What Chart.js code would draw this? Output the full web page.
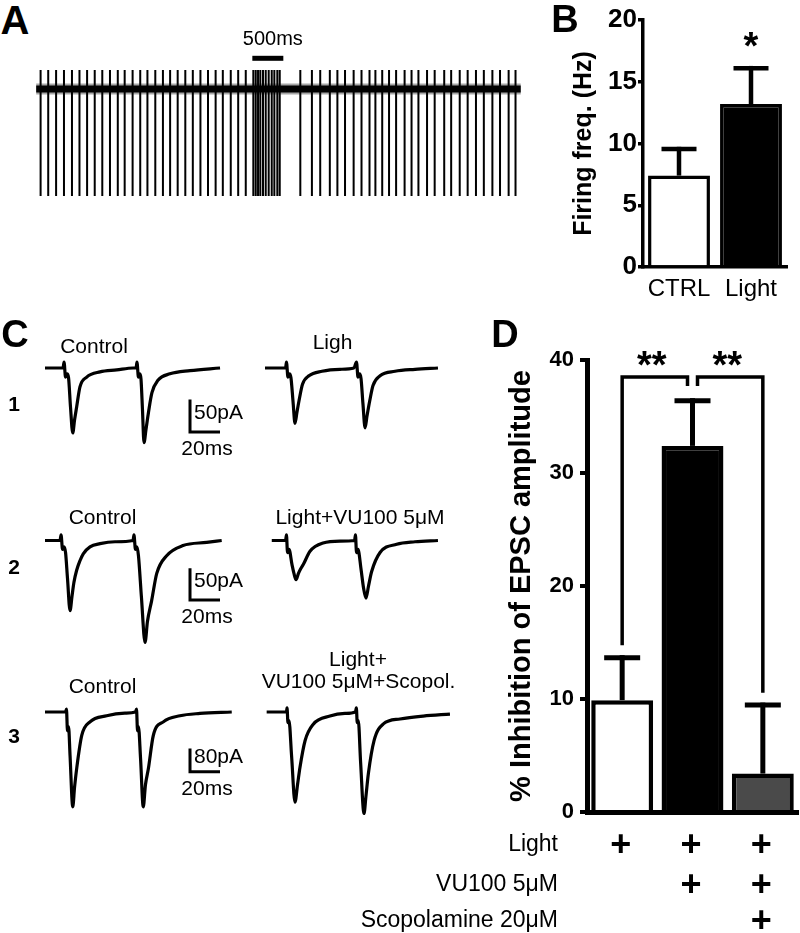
<!DOCTYPE html>
<html><head><meta charset="utf-8"><title>Figure</title>
<script src="https://cdn.jsdelivr.net/npm/chart.js@4.4.1/dist/chart.umd.min.js"></script>
<style>
html,body{margin:0;padding:0;background:#fff;}
body{width:800px;height:933px;position:relative;overflow:hidden;font-family:"Liberation Sans",Arial,Helvetica,sans-serif;color:#000;}
canvas{position:absolute;display:block;}
.lbl{position:absolute;white-space:nowrap;line-height:1;color:#000;}
</style></head><body>
<script>
// ================= DATA =================
// Panel A : spike times (ms) of the firing trace
const spikeTimesMs = [71,194,321,448,577,698,821,944,1066,1190,1316,1427,1555,1678,1794,1921,2044,2160,2282,2405,2526,2649,2771,2894,3010,3138,3258,3380,
  3502,3541,3578,3615,3658,3702,3750,3799,3841,3889,3928,
  4260,4447,4581,4736,4858,4981,5120,5247,5376,5471,5581,5691,5805,5942,6054,6165,6304,6427,6581,6693,6831,6959,7093,7220,7358,7481,7620,7731];
const spikePeak = 19;       // spike overshoot (a.u.)
const spikeTrough = -107;   // spike downstroke (a.u.)
const traceDurationMs = 7815;
const aScaleBarMs = 500;

// Panel B : firing frequency
const bCategories = ['CTRL', 'Light'];
const bMeans = [7.4, 13.2];
const bSEM = [2.15, 2.9];
const bTicks = [0, 5, 10, 15, 20];
const bSignificance = ['', '*'];

// Panel C : EPSC traces, time (ms) and current (pA)
const c1CtrlT = [0,12,12.7,13.7,14.7,15.7,17,18.5,19.7,21.1,23.3,27.8,36.7,47.8,58.7,60.7,61.3,62.3,63.3,64,65,66,67.3,69,71.3,75.3,83.3,96.7,116.7];
const c1CtrlI = [0,0,9,-14,-9,-15,-60,-100,-80,-60,-29,-14,-6,-3,0,0,9,-14,-9,-17,-65,-115,-95,-68,-38,-19,-9,-4,0];
const c1LightT = [0,13.7,14.3,15.3,16.3,17.3,18.7,20,21.3,22.7,25,29.3,38,50,59.3,61,62,63,64,65.3,66.7,68,69.7,72,76.7,86.7,100,115.3];
const c1LightI = [0,0,9,-14,-9,-15,-52,-85,-68,-50,-25,-12,-5,-2,0,9,-14,-9,-16,-55,-92,-74,-52,-27,-12,-5,-2,0];
const c2CtrlT = [0,10,10.7,11.7,12.7,13.7,15,16.7,18,19.3,21.1,23.3,25.5,30,36.7,46.7,58.7,59.3,60.3,61.3,62.3,64.3,66.7,68.3,71.1,74.5,81.1,92,107.8,117.8];
const c2CtrlI = [0,0,9,-14,-10,-19,-60,-111,-88,-66,-47,-32,-21,-10,-5,-2,0,9,-14,-10,-24,-90,-161,-128,-95,-52,-24,-8,-3,0];
const c2LightT = [4.5,13.7,14.3,15,16,18,19.3,20.7,22.3,23.7,25.5,30,38.7,50,59.7,60.3,61,62,64,65.7,67.3,69,71.1,76.7,87.8,100,115.3];
const c2LightI = [0,0,9,-19,-14,-38,-52,-62,-52,-45,-38,-17,-4,-1,0,9,-19,-14,-45,-75,-91,-72,-49,-19,-6,-2,0];
const c3CtrlT = [0,13.7,14.3,15,15.7,16.7,18.5,19.7,21.1,24.5,30,41.1,53.3,60.3,61,61.7,62.3,63.7,65.5,67,68.9,72.2,78.9,90,103.3,124.5];
const c3CtrlI = [0,0,10,-65,-50,-150,-327,-260,-196,-81,-34,-13,-4,0,10,-65,-50,-160,-327,-250,-196,-81,-34,-13,-5,0];
const c3LightT = [1.1,14.3,14.7,15.3,16,17.7,20,21.7,23.3,26.7,32.2,43.3,53.3,60.3,60.9,61.5,62.2,63.7,66,67.3,68.9,72.7,78.9,90,105.5,123.3];
const c3LightI = [0,0,14,-37,-30,-150,-311,-250,-191,-99,-42,-14,-5,0,14,-37,-30,-170,-350,-290,-213,-99,-41,-24,-14,-7];
const cScaleBarMs = [20, 20, 20];
const cScaleBarPA = [50, 50, 80];

// Panel D : % inhibition of EPSC amplitude
const dCategories = ['Light', 'Light+VU100', 'Light+VU100+Scopolamine'];
const dMeans = [9.9, 32.4, 3.4];
const dSEM = [3.76, 4.0, 6.06];
const dTicks = [0, 10, 20, 30, 40];
const dComparisons = [[0, 1, '**'], [1, 2, '**']];
const dRowLabels = ['Light', 'VU100 5\u03bcM', 'Scopolamine 20\u03bcM'];
const dTreatment = [[1, 1, 1], [0, 1, 1], [0, 0, 1]];

// ================= RENDER =================
const FONT = '"Liberation Sans", Arial, Helvetica, sans-serif';
Chart.defaults.font.family = FONT;
Chart.defaults.color = '#000';
Chart.defaults.animation = false;

function mkCanvas(l, t, w, h) {
  const c = document.createElement('canvas');
  c.width = w; c.height = h;
  c.style.left = l + 'px'; c.style.top = t + 'px';
  c.style.width = w + 'px'; c.style.height = h + 'px';
  document.body.appendChild(c);
  return c;
}
function label(text, x, y, size, weight, align) {
  const d = document.createElement('div');
  d.className = 'lbl';
  d.textContent = text;
  d.style.fontSize = size + 'px';
  d.style.fontWeight = weight;
  d.style.left = x + 'px'; d.style.top = y + 'px';
  d.style.transform = align === 'r' ? 'translate(-100%,-50%)' : align === 'l' ? 'translate(0,-50%)' : 'translate(-50%,-50%)';
  document.body.appendChild(d);
}
const baseOpts = () => ({
  responsive: false, animation: false, devicePixelRatio: 1,
  layout: { padding: 0 },
  plugins: { legend: { display: false }, tooltip: { enabled: false } },
  events: []
});

// ---------- Panel A ----------
(function () {
  const cv = mkCanvas(36, 30, 486, 180);
  const msPerPx = aScaleBarMs / 31;
  const xmin = -3.2, xmax = xmin + 486 * msPerPx;
  const pts = [];
  spikeTimesMs.forEach(t => { pts.push({ x: t, y: 0 }, { x: t, y: spikePeak }, { x: t, y: spikeTrough }, { x: t, y: 0 }); });
  const base = [{ x: 0, y: 0 }, { x: traceDurationMs, y: 0 }];
  const barPlugin = {
    id: 'aBar', afterDraw(chart) {
      const ctx = chart.ctx, xs = chart.scales.x, ys = chart.scales.y;
      const t0 = 3486, x0 = xs.getPixelForValue(t0), x1 = xs.getPixelForValue(t0 + aScaleBarMs);
      const y = ys.getPixelForValue(30.7);
      ctx.save();
      ctx.strokeStyle = '#000'; ctx.lineWidth = 5; ctx.lineCap = 'butt';
      ctx.beginPath(); ctx.moveTo(x0, y); ctx.lineTo(x1, y); ctx.stroke();
      ctx.fillStyle = '#000'; ctx.font = '20px ' + FONT; ctx.textAlign = 'center'; ctx.textBaseline = 'middle';
      ctx.fillText(aScaleBarMs + 'ms', (x0 + x1) / 2 + 5, y - 19);
      ctx.restore();
    }
  };
  const o = baseOpts();
  o.scales = { x: { type: 'linear', min: xmin, max: xmax, display: false }, y: { min: -121, max: 59, display: false } };
  o.elements = { point: { radius: 0 }, line: { tension: 0 } };
  new Chart(cv, {
    type: 'line',
    data: { datasets: [
      { data: base, borderColor: 'rgba(0,0,0,0.35)', borderWidth: 11 },
      { data: base, borderColor: '#000', borderWidth: 7 },
      { data: pts, borderColor: '#000', borderWidth: 2, borderJoinStyle: 'bevel' }
    ] },
    options: o, plugins: [barPlugin]
  });
})();

// ---------- Error bar plugin ----------
function errPlugin(means, sems, capW, lw) {
  return {
    id: 'err', afterDatasetsDraw(chart) {
      const ctx = chart.ctx, ys = chart.scales.y, meta = chart.getDatasetMeta(0);
      ctx.save(); ctx.strokeStyle = '#000'; ctx.lineWidth = lw; ctx.lineCap = 'butt';
      meta.data.forEach((bar, i) => {
        const x = bar.x, yb = ys.getPixelForValue(means[i]), yt = ys.getPixelForValue(means[i] + sems[i]);
        ctx.beginPath(); ctx.moveTo(x, yb); ctx.lineTo(x, yt - lw / 2); ctx.stroke();
        ctx.beginPath(); ctx.moveTo(x - capW / 2, yt); ctx.lineTo(x + capW / 2, yt); ctx.stroke();
      });
      ctx.restore();
    }
  };
}

// ---------- Panel B ----------
(function () {
  const cv = mkCanvas(530, 0, 270, 310);
  const sig = {
    id: 'bSig', afterDatasetsDraw(chart) {
      const ctx = chart.ctx, ys = chart.scales.y, meta = chart.getDatasetMeta(0);
      ctx.save(); ctx.fillStyle = '#000'; ctx.font = 'bold 38px ' + FONT; ctx.textAlign = 'center'; ctx.textBaseline = 'alphabetic';
      meta.data.forEach((bar, i) => {
        if (!bSignificance[i]) return;
        ctx.fillText(bSignificance[i], bar.x, ys.getPixelForValue(bMeans[i] + bSEM[i]) - 9);
      });
      ctx.restore();
    }
  };
  const o = baseOpts();
  o.layout = { padding: { top: 20, right: 13, left: 0, bottom: 0 } };
  o.scales = {
    x: {
      grid: { display: false, drawTicks: false }, border: { display: true, width: 3.5, color: '#000' },
      ticks: { font: { size: 24 }, padding: 8, color: '#000' },
      afterFit: s => { s.height = 43; }
    },
    y: {
      min: bTicks[0], max: bTicks[bTicks.length - 1],
      grid: { drawOnChartArea: false, drawTicks: true, tickLength: 5, lineWidth: 3.5, color: '#000' },
      border: { width: 3.5, color: '#000' },
      ticks: { stepSize: bTicks[1] - bTicks[0], font: { size: 26, weight: 'bold' }, padding: 1, color: '#000' },
      title: { display: true, text: 'Firing freq. (Hz)', font: { size: 25, weight: 'bold' }, padding: { top: 39, bottom: 0 }, color: '#000' },
      afterFit: s => { s.width = 113; }
    }
  };
  new Chart(cv, {
    type: 'bar',
    data: { labels: bCategories, datasets: [{ data: bMeans, backgroundColor: ['#fff', '#000'], borderColor: '#000', borderWidth: 3.5, barPercentage: 0.86, categoryPercentage: 1 }] },
    options: o, plugins: [errPlugin(bMeans, bSEM, 35, 4.5), sig]
  });
})();

// ---------- Panel C ----------
(function () {
  const pxPerMs = 1.5, width = 460, ctrlOffsetMs = 30, lightOffsetMs = 176.67, barAnchorMs = 126.67;
  const rows = [
    { top: 330, h: 130, base: 38, pxPerPA: 0.65, ctrl: [c1CtrlT, c1CtrlI], light: [c1LightT, c1LightI], barBottom: -98.5 },
    { top: 500, h: 160, base: 40.5, pxPerPA: 0.633, ctrl: [c2CtrlT, c2CtrlI], light: [c2LightT, c2LightI], barBottom: -94 },
    { top: 690, h: 140, base: 22, pxPerPA: 0.29, ctrl: [c3CtrlT, c3CtrlI], light: [c3LightT, c3LightI], barBottom: -206 }
  ];
  rows.forEach((r, k) => {
    const cv = mkCanvas(0, r.top, width, r.h);
    const toPts = (tr, off) => tr[0].map((t, i) => ({ x: t + off, y: tr[1][i] }));
    const bar = {
      id: 'cBar', afterDraw(chart) {
        const ctx = chart.ctx, xs = chart.scales.x, ys = chart.scales.y;
        const x0 = xs.getPixelForValue(barAnchorMs), x1 = xs.getPixelForValue(barAnchorMs + cScaleBarMs[k]);
        const y0 = ys.getPixelForValue(r.barBottom), y1 = ys.getPixelForValue(r.barBottom + cScaleBarPA[k]);
        ctx.save(); ctx.strokeStyle = '#000'; ctx.lineWidth = 3; ctx.lineJoin = 'miter'; ctx.lineCap = 'butt';
        ctx.beginPath(); ctx.moveTo(x0, y1); ctx.lineTo(x0, y0); ctx.lineTo(x1, y0); ctx.stroke();
        ctx.fillStyle = '#000'; ctx.font = '21px ' + FONT; ctx.textBaseline = 'middle';
        ctx.textAlign = 'left'; ctx.fillText(cScaleBarPA[k] + 'pA', x0 + 4, (y0 + y1) / 2 - 3);
        ctx.textAlign = 'center'; ctx.fillText(cScaleBarMs[k] + 'ms', (x0 + x1) / 2 + 2, y0 + 17);
        ctx.restore();
      }
    };
    const o = baseOpts();
    o.scales = {
      x: { type: 'linear', min: 0, max: width / pxPerMs, display: false },
      y: { min: -(r.h - r.base) / r.pxPerPA, max: r.base / r.pxPerPA, display: false }
    };
    o.elements = { point: { radius: 0 } };
    new Chart(cv, {
      type: 'line',
      data: { datasets: [
        { data: toPts(r.ctrl, ctrlOffsetMs), borderColor: '#000', borderWidth: 3.2, cubicInterpolationMode: 'monotone', borderJoinStyle: 'round' },
        { data: toPts(r.light, lightOffsetMs), borderColor: '#000', borderWidth: 3.2, cubicInterpolationMode: 'monotone', borderJoinStyle: 'round' }
      ] },
      options: o, plugins: [bar]
    });
  });
})();

// ---------- Panel D ----------
(function () {
  const L0 = 490, T0 = 300;
  const cv = mkCanvas(L0, T0, 310, 633);
  const rowOff = [31, 71, 107];
  const extras = {
    id: 'dExtras', afterDatasetsDraw(chart) {
      const ctx = chart.ctx, ys = chart.scales.y, meta = chart.getDatasetMeta(0), area = chart.chartArea;
      const errTops = dMeans.map((m, i) => m + dSEM[i]);
      const yTop = ys.getPixelForValue(Math.max(...errTops) + 2.1);
      const use = {};
      dComparisons.forEach(c => { use[c[0]] = (use[c[0]] || 0) + 1; use[c[1]] = (use[c[1]] || 0) + 1; });
      ctx.save(); ctx.strokeStyle = '#000'; ctx.lineWidth = 3.5; ctx.lineJoin = 'miter'; ctx.lineCap = 'butt';
      ctx.fillStyle = '#000';
      dComparisons.forEach(([a, b, txt]) => {
        const leg = (idx, dx) => use[idx] > 1
          ? { x: meta.data[idx].x + dx, y: yTop + 9 }
          : { x: meta.data[idx].x, y: ys.getPixelForValue(errTops[idx] + 1.1) };
        const L = leg(a, 5), R = leg(b, -5);
        ctx.beginPath(); ctx.moveTo(L.x, L.y); ctx.lineTo(L.x, yTop); ctx.lineTo(R.x, yTop); ctx.lineTo(R.x, R.y); ctx.stroke();
        ctx.font = 'bold 38px ' + FONT; ctx.textAlign = 'center'; ctx.textBaseline = 'alphabetic';
        ctx.fillText(txt, (L.x + R.x) / 2 - 3, yTop + 1);
      });
      // treatment table: plus signs under the bars
      ctx.font = 'bold 36px ' + FONT; ctx.textAlign = 'center'; ctx.textBaseline = 'alphabetic';
      dTreatment.forEach((row, r) => {
        const y = area.bottom + rowOff[r];
        row.forEach((v, c) => { if (v) ctx.fillText('+', meta.data[c].x - 1.5, y + 12.5); });
      });
      ctx.restore();
    }
  };
  const o = baseOpts();
  o.layout = { padding: { top: 60, right: 2, left: 0, bottom: 0 } };
  o.scales = {
    x: {
      grid: { display: false, drawTicks: false }, border: { display: true, width: 5, color: '#000' },
      ticks: { display: false },
      afterFit: s => { s.height = 121; }
    },
    y: {
      min: dTicks[0], max: dTicks[dTicks.length - 1],
      grid: { drawOnChartArea: false, drawTicks: true, tickLength: 7, lineWidth: 4, color: '#000' },
      border: { width: 5, color: '#000' },
      ticks: { stepSize: dTicks[1] - dTicks[0], font: { size: 22, weight: 'bold' }, padding: 6, color: '#000' },
      title: { display: true, text: '% Inhibition of EPSC amplitude', font: { size: 29, weight: 'bold' }, padding: { top: 14.6, bottom: 0 }, color: '#000' },
      afterFit: s => { s.width = 97; }
    }
  };
  const ch = new Chart(cv, {
    type: 'bar',
    data: { labels: dCategories, datasets: [{ data: dMeans, backgroundColor: ['#fff', '#000', '#4a4a4a'], borderColor: '#000', borderWidth: 4.5, barPercentage: 0.88, categoryPercentage: 1 }] },
    options: o, plugins: [errPlugin(dMeans, dSEM, 36, 5), extras]
  });
  // treatment row labels (HTML text, right-aligned to the left of the axis)
  const area = ch.chartArea;
  dRowLabels.forEach((lab, r) => label(lab, L0 + area.left - 29, T0 + area.bottom + rowOff[r], 23, 'normal', 'r'));
})();

// ---------- Text labels ----------
label('A', 15, 19.5, 40, 'bold', 'c');
label('B', 565, 18.5, 38, 'bold', 'c');
label('C', 15, 334, 38, 'bold', 'c');
label('D', 505, 334, 38, 'bold', 'c');
label('1', 14, 403, 21, 'bold', 'c');
label('2', 14, 566, 21, 'bold', 'c');
label('3', 14, 735, 21, 'bold', 'c');
label('Control', 94, 344.5, 21, 'normal', 'c');
label('Ligh', 332.5, 340.5, 21, 'normal', 'c');
label('Control', 102.5, 515.5, 21, 'normal', 'c');
label('Light+VU100 5\u03bcM', 360, 515.5, 21, 'normal', 'c');
label('Control', 102.5, 684.5, 21, 'normal', 'c');
label('Light+', 358, 657.5, 21, 'normal', 'c');
label('VU100 5\u03bcM+Scopol.', 358.5, 679.5, 21, 'normal', 'c');
</script>
</body></html>
